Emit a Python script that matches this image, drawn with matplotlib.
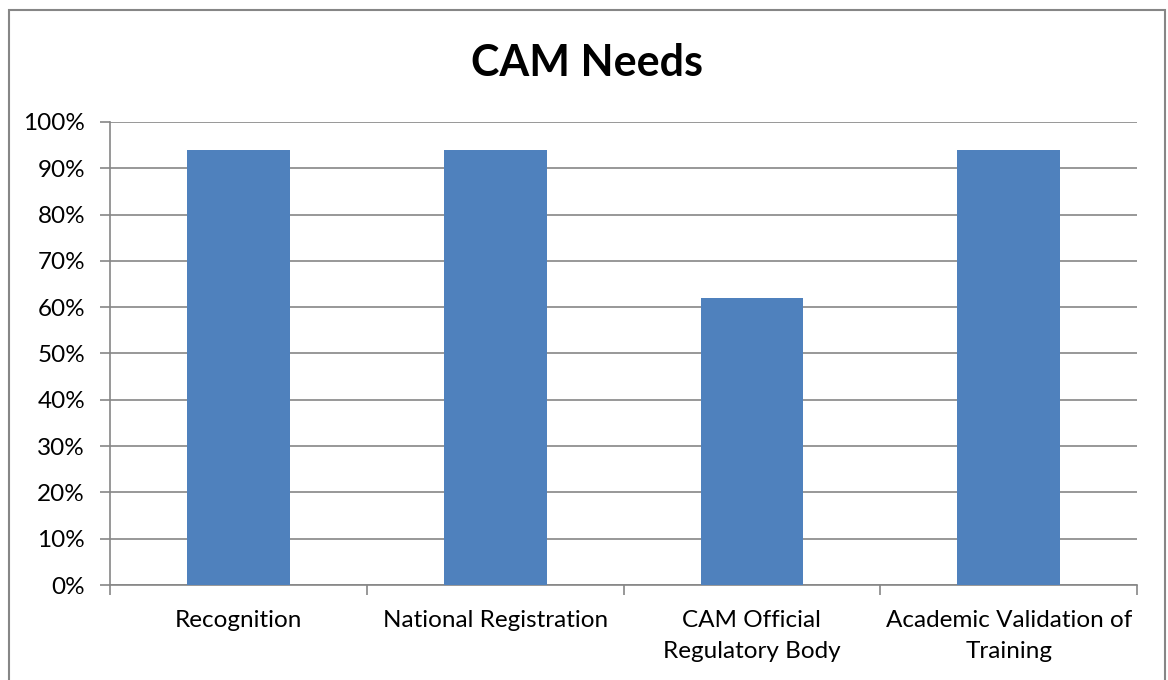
import matplotlib.pyplot as plt
from matplotlib.patches import Rectangle

# Chart data
categories = ["Recognition", "National Registration", "CAM Official\nRegulatory Body",
              "Academic Validation of\nTraining"]
values = [94, 94, 62, 94]

plt.rcParams['font.family'] = ['Lato', 'DejaVu Sans']

fig = plt.figure(figsize=(11.68, 6.8), dpi=100)
ax = fig.add_axes([0.0942, 0.1397, 0.8793, 0.6809])

grid_color = "#868686"
positions = range(len(categories))
ax.bar(positions, values, width=0.4, color="#4F81BD", zorder=3)

ax.set_xlim(-0.5, len(categories) - 0.5)
ax.set_ylim(0, 100)
ax.set_yticks(range(0, 101, 10))
ax.set_yticklabels([f"{v}%" for v in range(0, 101, 10)], fontsize=17.5)
ax.yaxis.grid(True, color=grid_color, linewidth=1.2, zorder=0)

# category labels between boundary ticks
ax.set_xticks([i + 0.5 for i in range(-1, len(categories))])
ax.set_xticklabels([])
ax.set_xticks(list(positions), minor=True)
ax.set_xticklabels(categories, minor=True, fontsize=17.5, linespacing=1.58)
ax.tick_params(axis='x', which='minor', length=0, pad=18)
ax.tick_params(axis='x', which='major', length=7, color=grid_color, width=1.2)
ax.tick_params(axis='y', length=7, color=grid_color, width=1.2, pad=11)

for side in ["top", "right"]:
    ax.spines[side].set_visible(False)
for side in ["left", "bottom"]:
    ax.spines[side].set_color(grid_color)
    ax.spines[side].set_linewidth(1.2)

fig.text(0.5025, 0.908, "CAM Needs", ha="center", va="center", fontsize=31, fontweight="bold")

# outer chart border
fig.patches.append(Rectangle((9 / 1168, -0.01), 1156 / 1168, 1 - 10 / 680 + 0.01,
                             transform=fig.transFigure, fill=False,
                             edgecolor=grid_color, linewidth=1.5))

fig.savefig("out.png", dpi=100)
